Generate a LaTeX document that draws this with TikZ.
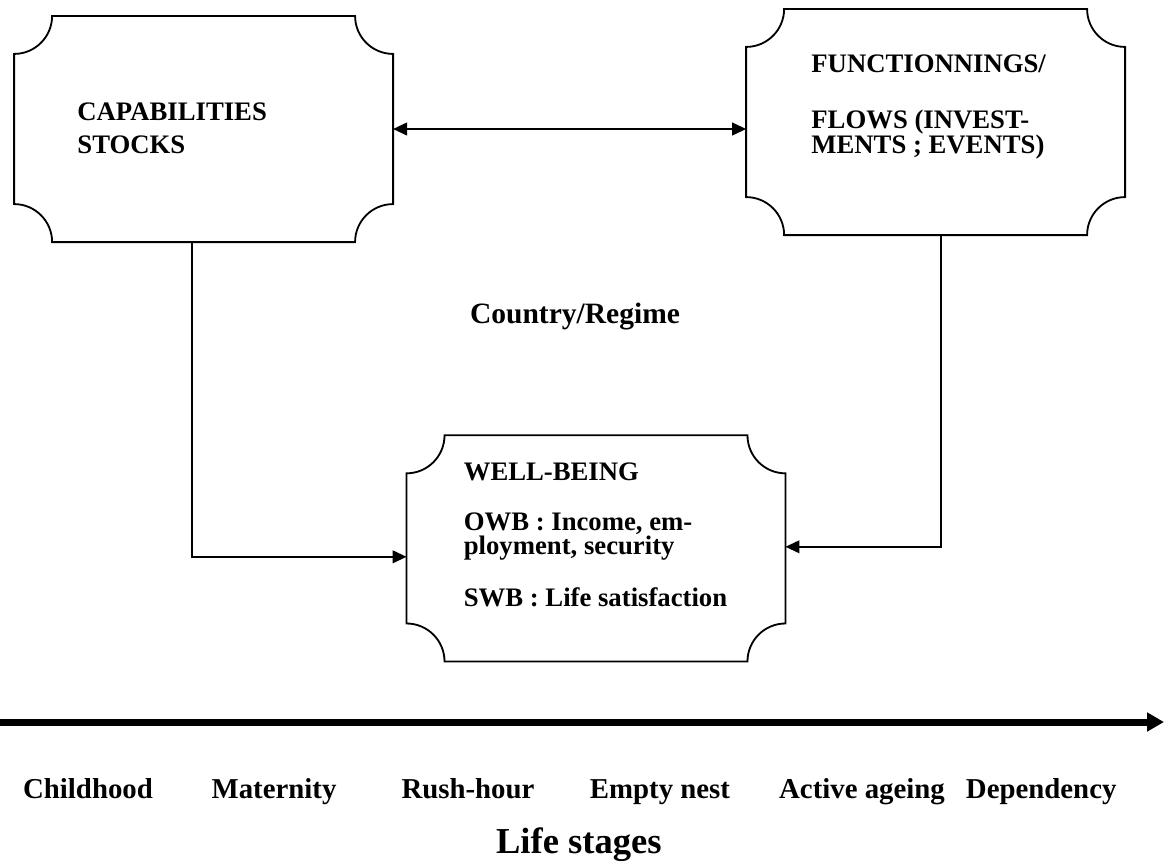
\documentclass[tikz,border=0pt]{standalone}
\usepackage{fontspec}
\setmainfont{Liberation Serif}
\usetikzlibrary{arrows.meta,positioning}

\newcommand\plaquer{0.95cm}
% outline with concave corners round a named node
\newcommand\plaqueoutline[1]{%
  \draw[plaqueline] ([yshift=-\plaquer]#1.north west)
    arc[start angle=-90, end angle=0, radius=\plaquer]
    -- ([xshift=-\plaquer]#1.north east)
    arc[start angle=180, end angle=270, radius=\plaquer]
    -- ([yshift=\plaquer]#1.south east)
    arc[start angle=90, end angle=180, radius=\plaquer]
    -- ([xshift=\plaquer]#1.south west)
    arc[start angle=0, end angle=90, radius=\plaquer]
    -- cycle;}

\tikzset{
  plaque/.style={minimum width=9.46cm, minimum height=5.64cm, inner sep=0},
  plaqueline/.style={line width=1.3pt},
  boxtext/.style={inner sep=0, anchor=north west, align=left, font=\fontsize{19}{17.5}\selectfont\bfseries},
  link/.style={line width=1.2pt},
  arrtip/.tip={Triangle[length=0.35cm, width=0.32cm]},
  stage/.style={anchor=base, inner sep=0, font=\fontsize{20.5}{24}\selectfont\bfseries},
  timeline/.style={line width=5pt, -{Triangle[length=0.42cm, width=0.45cm]}}
}

\begin{document}
\begin{tikzpicture}
\useasboundingbox (0,0) rectangle (29.1,-21.55);

% Boxes
\node[plaque] (cap) at (5.09,-3.225) {};
\node[plaque] (flow) at (23.39,-3.05) {};
\node[plaque] (wb) at (14.9,-13.71) {};
\plaqueoutline{cap}
\plaqueoutline{flow}
\plaqueoutline{wb}

% Box texts
\node[boxtext, font=\fontsize{19}{23}\selectfont\bfseries] (capT) at ([xshift=1.575cm, yshift=-2.175cm]cap.north west) {CAPABILITIES\\STOCKS};
\node[boxtext] (flowA) at ([xshift=1.625cm, yshift=-1.15cm]flow.north west) {FUNCTIONNINGS/};
\node[boxtext] (flowB) at ([xshift=1.625cm, yshift=-2.525cm]flow.north west) {FLOWS (INVEST-\\MENTS ; EVENTS)};
\node[boxtext] (wbA) at ([xshift=1.425cm, yshift=-0.675cm]wb.north west) {WELL-BEING};
\node[boxtext] (wbB) at ([xshift=1.425cm, yshift=-1.925cm]wb.north west) {OWB : Income, em-\\ployment, security};
\node[boxtext] (wbC) at ([xshift=1.425cm, yshift=-3.8cm]wb.north west) {SWB : Life satisfaction};

\node[anchor=base, inner sep=0, font=\fontsize{21}{24}\selectfont\bfseries] (regime) at (14.375,-8.075) {Country/Regime};

% Connectors
\draw[link, {arrtip}-{arrtip}] (cap.east) -- (cap.east -| flow.west);
\draw[link, -{arrtip}] ([xshift=-0.29cm]cap.south) |- ([yshift=-0.21cm]wb.west);
\draw[link, -{arrtip}] ([xshift=0.14cm]flow.south) |- ([yshift=0.04cm]wb.east);

% Axis
\coordinate (tstart) at (0,-18.05);
\coordinate (tend) at (29.1,-18.05);
\draw[timeline] (tstart) -- (tend);

% Stages
\node[stage] (child) at (2.2,-19.95) {Childhood};
\node[stage] (mater) at (6.85,-19.95) {Maternity};
\node[stage] (rush) at (11.7,-19.95) {Rush-hour};
\node[stage] (nest) at (16.5,-19.95) {Empty nest};
\node[stage] (active) at (21.55,-19.95) {Active ageing};
\node[stage] (depend) at (26.03,-19.95) {Dependency};
\node[anchor=base, inner sep=0, font=\fontsize{26}{30}\selectfont\bfseries] (stages) at (14.47,-21.33) {Life stages};

\end{tikzpicture}
\end{document}
